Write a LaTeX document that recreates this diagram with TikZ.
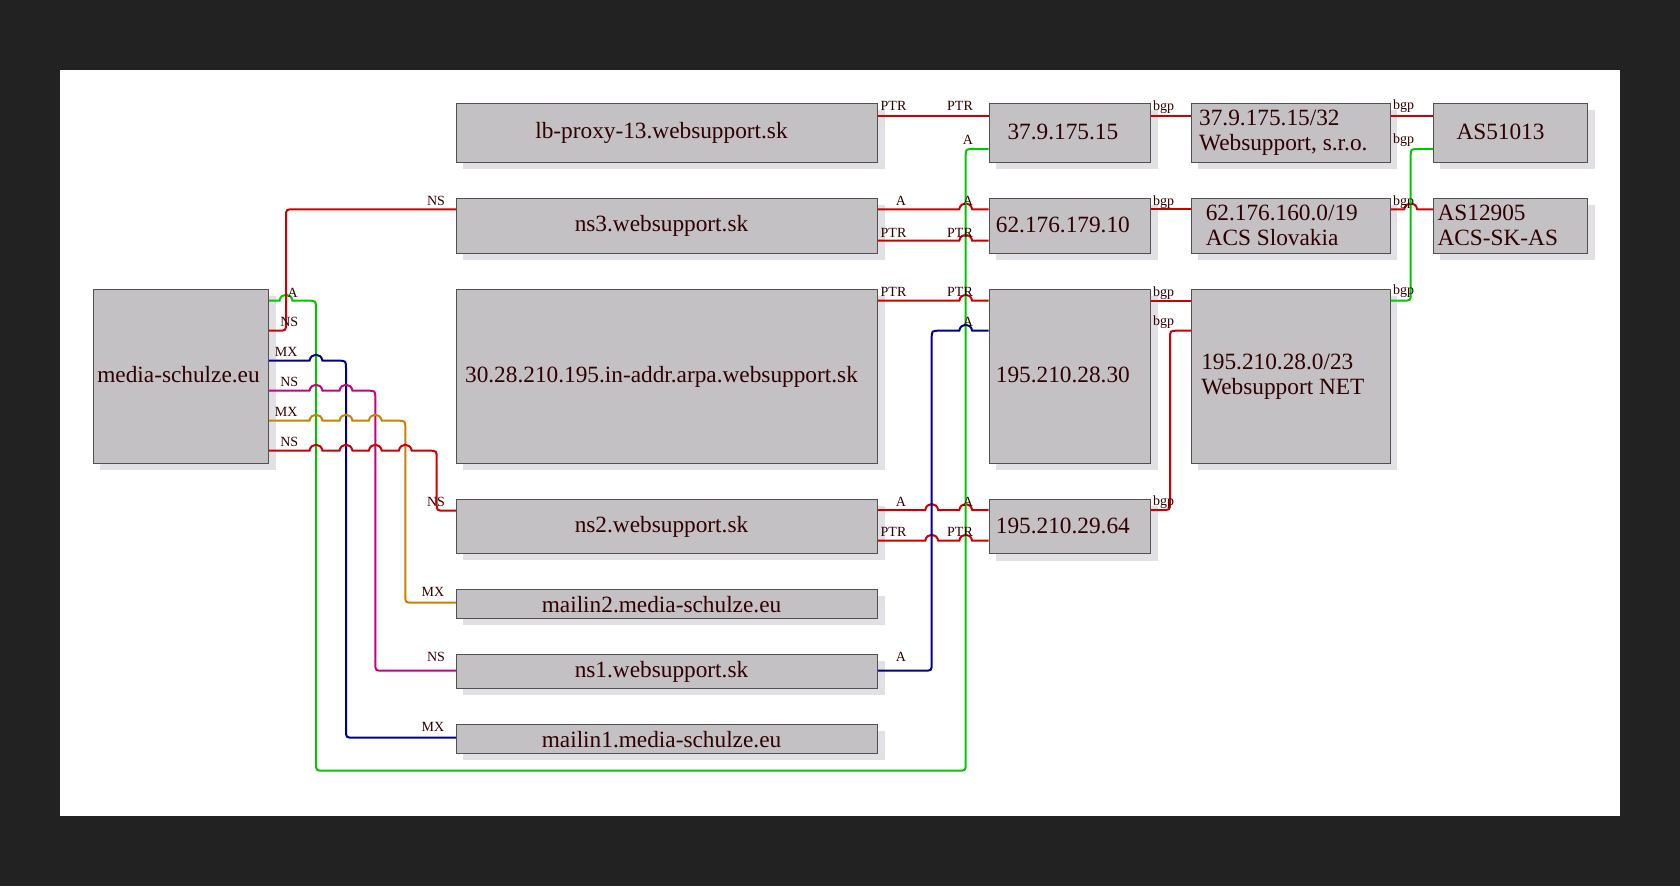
\documentclass[tikz,border=0pt]{standalone}
\usepackage{fontspec}
\setmainfont{Liberation Serif}
\usetikzlibrary{shadows}
\definecolor{bgdark}{RGB}{34,34,34}
\definecolor{boxfill}{RGB}{195,193,196}
\definecolor{boxline}{RGB}{80,80,80}
\definecolor{shadowc}{RGB}{226,224,228}
\definecolor{txtc}{RGB}{48,0,0}
\definecolor{ered}{RGB}{204,0,0}
\definecolor{egreen}{RGB}{0,200,0}
\definecolor{eblue}{RGB}{0,0,140}
\definecolor{emag}{RGB}{200,0,130}
\definecolor{eorange}{RGB}{200,130,0}
\begin{document}
\begin{tikzpicture}[x=1pt,y=-1pt,
  box/.style={draw=boxline, fill=boxfill, line width=1pt, inner sep=0pt,
    drop shadow={shadow xshift=7pt, shadow yshift=-7pt, fill=shadowc, draw=none, opacity=1}},
  sz/.style 2 args={minimum width=#1pt, minimum height=#2pt},
  txt/.style={font=\fontsize{23.3}{25}\selectfont, text=txtc, inner sep=0pt},
  lab/.style={font=\fontsize{14}{14}\selectfont, text=txtc, inner sep=0pt},
  edge/.style={line width=2pt},
  jmp/.style 2 args={insert path={-- (#1-6.5,#2) .. controls (#1-5,#2-8) and (#1+5,#2-8) .. (#1+6.5,#2)}}
]
\useasboundingbox (0,0) rectangle (1680,886);
\fill[bgdark] (0,0) rectangle (1680,886);
\fill[white] (60,70) rectangle (1620,815.7);

% boxes
\node[box, sz={175.4}{174.3}] (ms) at (181,376.15) {};
\node[box, sz={421.4}{59}] (lb) at (667,132.8) {};
\node[box, sz={421.4}{55}] (ns3) at (667,225.8) {};
\node[box, sz={421.4}{174}] (inaddr) at (667,376.3) {};
\node[box, sz={421.4}{54}] (ns2) at (667,526.3) {};
\node[box, sz={421.4}{29}] (mailin2) at (667,603.8) {};
\node[box, sz={421.4}{34}] (ns1) at (667,671.3) {};
\node[box, sz={421.4}{29}] (mailin1) at (667,738.8) {};
\node[box, sz={161.7}{59}] (ip1) at (1069.85,132.8) {};
\node[box, sz={161.7}{55}] (ip2) at (1069.85,225.8) {};
\node[box, sz={161.7}{174}] (ip3) at (1069.85,376.3) {};
\node[box, sz={161.7}{54.4}] (ip4) at (1069.85,526.5) {};
\node[box, sz={199}{59}] (net1) at (1290.8,132.8) {};
\node[box, sz={199}{55}] (net2) at (1290.8,225.8) {};
\node[box, sz={199}{174}] (net3) at (1290.8,376.3) {};
\node[box, sz={154.4}{59}] (as1) at (1510.5,132.8) {};
\node[box, sz={154.4}{55}] (as2) at (1510.5,225.8) {};

% box texts
\node[txt, anchor=base] at ([xshift=-2.5pt,yshift=-6.5pt]ms.center) {media-schulze.eu};
\node[txt, anchor=base] at ([xshift=-5.5pt,yshift=-6pt]lb.center) {lb-proxy-13.websupport.sk};
\node[txt, anchor=base] at ([xshift=-5.5pt,yshift=-6pt]ns3.center) {ns3.websupport.sk};
\node[txt, anchor=base] at ([xshift=-5.5pt,yshift=-6pt]inaddr.center) {30.28.210.195.in-addr.arpa.websupport.sk};
\node[txt, anchor=base] at ([xshift=-5.5pt,yshift=-6pt]ns2.center) {ns2.websupport.sk};
\node[txt, anchor=base] at ([xshift=-5.5pt,yshift=-8.5pt]mailin2.center) {mailin2.media-schulze.eu};
\node[txt, anchor=base] at ([xshift=-5.5pt,yshift=-6pt]ns1.center) {ns1.websupport.sk};
\node[txt, anchor=base] at ([xshift=-5.5pt,yshift=-8.5pt]mailin1.center) {mailin1.media-schulze.eu};
\node[txt, anchor=base] at ([xshift=-7pt,yshift=-6.5pt]ip1.center) {37.9.175.15};
\node[txt, anchor=base] at ([xshift=-7pt,yshift=-6.5pt]ip2.center) {62.176.179.10};
\node[txt, anchor=base] at ([xshift=-7pt,yshift=-6.5pt]ip3.center) {195.210.28.30};
\node[txt, anchor=base] at ([xshift=-7pt,yshift=-6.5pt]ip4.center) {195.210.29.64};
\node[txt, align=left] at ([xshift=-7.5pt]net1.center) {37.9.175.15/32\\Websupport, s.r.o.};
\node[txt, align=left] at ([xshift=-9pt]net2.center) {62.176.160.0/19\\ACS Slovakia};
\node[txt, align=left] at ([xshift=-8pt]net3.center) {195.210.28.0/23\\Websupport NET};
\node[txt, anchor=base] at ([xshift=-10pt,yshift=-6.5pt]as1.center) {AS51013};
\node[txt, align=left] at ([xshift=-12.7pt]as2.center) {AS12905\\ACS-SK-AS};

% connectors
\draw[edge,ered] (lb.east |- 0,115.7) -- (ip1.west |- 0,115.7);
\draw[edge,ered] (ns3.east |- 0,209.3) [jmp={965.7}{209.3}] -- (ip2.west |- 0,209.3);
\draw[edge,ered] (ns3.east |- 0,240.7) [jmp={965.7}{240.7}] -- (ip2.west |- 0,240.7);
\draw[edge,ered] (inaddr.east |- 0,300.7) [jmp={965.7}{300.7}] -- (ip3.west |- 0,300.7);
\draw[edge,ered] (ns2.east |- 0,510) [jmp={931.7}{510}] [jmp={965.7}{510}] -- (ip4.west |- 0,510);
\draw[edge,ered] (ns2.east |- 0,540.7) [jmp={931.7}{540.7}] [jmp={965.7}{540.7}] -- (ip4.west |- 0,540.7);

\draw[edge,egreen] (ms.east |- 0,300.7) [jmp={286}{300.7}]
  -- (308,300.7) .. controls (316,300.7) .. (316,308.7)
  -- (316,762.7) .. controls (316,770.7) .. (324,770.7)
  -- (957.7,770.7) .. controls (965.7,770.7) .. (965.7,762.7)
  -- (965.7,157) .. controls (965.7,149) .. (973.7,149)
  -- (ip1.west |- 0,149);
\draw[edge,ered] (ms.east |- 0,330.7) -- (278,330.7) .. controls (286,330.7) .. (286,322.7)
  -- (286,217.3) .. controls (286,209.3) .. (294,209.3) -- (ns3.west |- 0,209.3);
\draw[edge,eblue] (ms.east |- 0,360.7) [jmp={316}{360.7}]
  -- (338,360.7) .. controls (346,360.7) .. (346,368.7)
  -- (346,729.7) .. controls (346,737.7) .. (354,737.7) -- (mailin1.west |- 0,737.7);
\draw[edge,emag] (ms.east |- 0,390.7) [jmp={316}{390.7}] [jmp={346}{390.7}]
  -- (367.3,390.7) .. controls (375.3,390.7) .. (375.3,398.7)
  -- (375.3,662.7) .. controls (375.3,670.7) .. (383.3,670.7) -- (ns1.west |- 0,670.7);
\draw[edge,eorange] (ms.east |- 0,420.7) [jmp={316}{420.7}] [jmp={346}{420.7}] [jmp={375.3}{420.7}]
  -- (397.3,420.7) .. controls (405.3,420.7) .. (405.3,428.7)
  -- (405.3,594.7) .. controls (405.3,602.7) .. (413.3,602.7) -- (mailin2.west |- 0,602.7);
\draw[edge,ered] (ms.east |- 0,450.7) [jmp={316}{450.7}] [jmp={346}{450.7}] [jmp={375.3}{450.7}] [jmp={405.3}{450.7}]
  -- (428.7,450.7) .. controls (436.7,450.7) .. (436.7,458.7)
  -- (436.7,502.7) .. controls (436.7,510.7) .. (444.7,510.7) -- (ns2.west |- 0,510.7);
\draw[edge,eblue] (ns1.east |- 0,670.7) -- (923.7,670.7) .. controls (931.7,670.7) .. (931.7,662.7)
  -- (931.7,338.7) .. controls (931.7,330.7) .. (939.7,330.7) [jmp={965.7}{330.7}] -- (ip3.west |- 0,330.7);

\draw[edge,ered] (ip1.east |- 0,115.7) -- (net1.west |- 0,115.7);
\draw[edge,ered] (ip2.east |- 0,209.3) -- (net2.west |- 0,209.3);
\draw[edge,ered] (ip3.east |- 0,300.7) -- (net3.west |- 0,300.7);
\draw[edge,ered] (ip4.east |- 0,510) -- (1162,510) .. controls (1170,510) .. (1170,502)
  -- (1170,338.7) .. controls (1170,330.7) .. (1178,330.7) -- (net3.west |- 0,330.7);
\draw[edge,ered] (net1.east |- 0,115.7) -- (as1.west |- 0,115.7);
\draw[edge,ered] (net2.east |- 0,209.3) [jmp={1410.7}{209.3}] -- (as2.west |- 0,209.3);
\draw[edge,egreen] (net3.east |- 0,300.7) -- (1402.7,300.7) .. controls (1410.7,300.7) .. (1410.7,292.7)
  -- (1410.7,157) .. controls (1410.7,149) .. (1418.7,149) -- (as1.west |- 0,149);

% labels
\node[lab] (l1) at (893.5,106) {PTR};
\node[lab] (l2) at (960,106) {PTR};
\node[lab] (l3) at (901,201) {A};
\node[lab] (l4) at (968,201) {A};
\node[lab] (l5) at (893.5,232.7) {PTR};
\node[lab] (l6) at (960,232.7) {PTR};
\node[lab] (l7) at (893.5,292) {PTR};
\node[lab] (l8) at (960,292) {PTR};
\node[lab] (l9) at (901,502) {A};
\node[lab] (l10) at (968,502) {A};
\node[lab] (l11) at (893.5,531.7) {PTR};
\node[lab] (l12) at (960,531.7) {PTR};
\node[lab] (l13) at (292.7,292.7) {A};
\node[lab] (l14) at (968,140) {A};
\node[lab] (l15) at (289.3,321.7) {NS};
\node[lab] (l16) at (436,201) {NS};
\node[lab] (l17) at (286.2,351.7) {MX};
\node[lab] (l18) at (433,727.3) {MX};
\node[lab] (l19) at (289.3,381.7) {NS};
\node[lab] (l20) at (436,656.7) {NS};
\node[lab] (l21) at (286.2,411.7) {MX};
\node[lab] (l22) at (433,592.3) {MX};
\node[lab] (l23) at (289.3,441.7) {NS};
\node[lab] (l24) at (436,501.7) {NS};
\node[lab] (l25) at (901,656.7) {A};
\node[lab] (l26) at (968,321.7) {A};
\node[lab] (l27) at (1163.5,106.7) {bgp};
\node[lab] (l28) at (1163.5,201.7) {bgp};
\node[lab] (l29) at (1163.5,292.7) {bgp};
\node[lab] (l30) at (1163.5,322.3) {bgp};
\node[lab] (l31) at (1163.5,502.3) {bgp};
\node[lab] (l32) at (1403.5,106) {bgp};
\node[lab] (l33) at (1403.5,140) {bgp};
\node[lab] (l34) at (1403.5,201.7) {bgp};
\node[lab] (l35) at (1403.5,291) {bgp};
\end{tikzpicture}
\end{document}
